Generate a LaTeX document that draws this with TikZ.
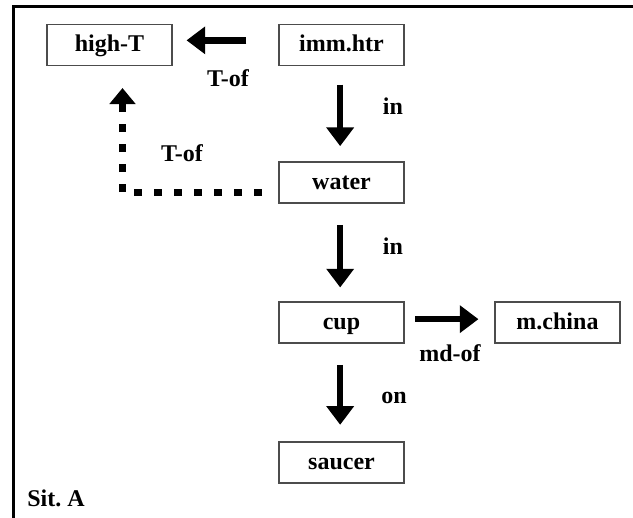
\documentclass[tikz,border=0pt]{standalone}
\usepackage{fontspec}
\setmainfont{Liberation Serif}
\usetikzlibrary{arrows.meta}

\begin{document}
\begin{tikzpicture}[x=0.75pt,y=-0.75pt,
font=\fontsize{18}{20}\selectfont\bfseries,
concept/.style = {draw=black!70, line width=0.8pt,
     minimum width=125*0.75pt, minimum height=41*0.75pt,
     text height=12pt, text depth=2pt,
     inner sep=0pt},
     rel/.style = {line width=4.8pt,
     -{Triangle[length=14pt,width=20pt]}},
     rel dot/.style = {line width=5.5pt,
     dash pattern=on 6pt off 9pt,
     -{Triangle[length=12pt,width=19pt]}},
     lab/.style = {inner sep=0pt}]

\useasboundingbox (0,0) rectangle (633,518);
\draw[line width=2.3pt] (13.5,518) -- (13.5,6.5) -- (633,6.5);

\node [concept] (highT) at (109.5,45) {high-T};
\node [concept] (imm) at (341.5,45) {imm.htr};
\node [concept] (water) at (341.5,182.5) {water};
\node [concept] (cup) at (341.5,322.5) {cup};
\node [concept] (china) at (557.5,322.5) {m.china};
\node [concept] (saucer) at (341.5,462.5) {saucer};

    \draw[rel, shorten <=24pt, shorten >=10.5pt] ([yshift=3.5pt]imm.west) -- ([yshift=3.5pt]imm.west -| highT.east);
    \draw[rel, shorten <=14pt, shorten >=11.5pt] ([xshift=-1pt]imm.south) -- ([xshift=-1pt]water.north);
    \draw[rel, shorten <=16pt, shorten >=10.5pt] ([xshift=-1pt]water.south) -- ([xshift=-1pt]cup.north);
    \draw[rel, shorten <=16pt, shorten >=12.5pt] ([xshift=-1pt]cup.south) -- ([xshift=-1pt]saucer.north);
    \draw[rel, shorten <=8pt, shorten >=12pt] ([yshift=2.5pt]cup.east) -- ([yshift=2.5pt]cup.east -| china.west);
    \coordinate (dstart) at (262,192.5);
    \draw[rel dot, shorten >=16.5pt] (dstart) -| ([xshift=9.75pt]highT.south);

\node [lab] (l1) at (228,78) {T-of};
\node [lab] (l2) at (182,153) {T-of};
\node [lab] (l3) at (393,106) {in};
\node [lab] (l4) at (393,246) {in};
\node [lab] (l5) at (450,353) {md-of};
\node [lab] (l6) at (394,398) {on};
\node [lab, anchor=west] (sit) at (27,498) {Sit.\ A};

\end{tikzpicture}
\end{document}
